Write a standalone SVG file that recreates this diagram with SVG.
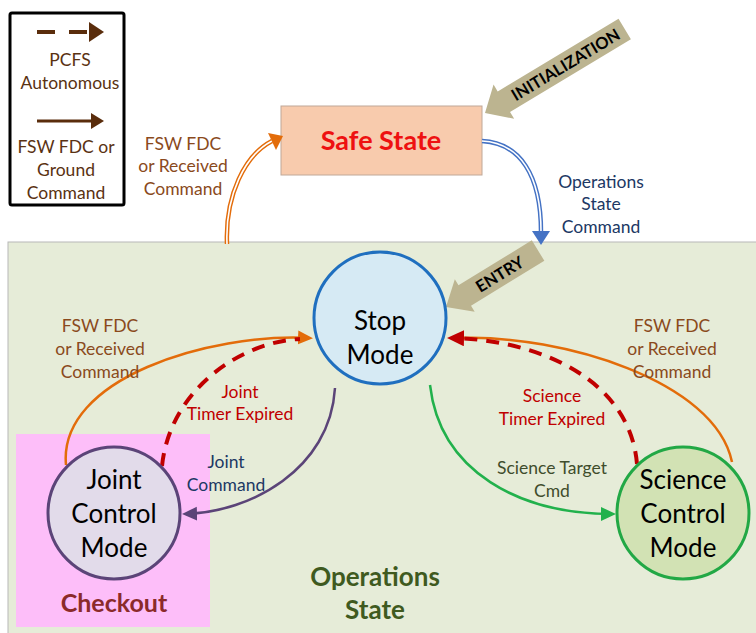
<svg xmlns="http://www.w3.org/2000/svg" width="756" height="633" viewBox="0 0 756 633">
<defs>
<style>
text{font-family:Lato,"Liberation Sans",sans-serif;text-anchor:middle}
.lbl{font-size:17.5px}
.sm{font-size:17.5px}
.brown{fill:#8a4a1c}
.navy{fill:#203864}
.red{fill:#c00000}
.olive{fill:#3f4d2c}
.node{font-size:26px;fill:#000}
.leg{font-size:17.5px;fill:#5a3212}
.bold{font-weight:bold}
</style>
<marker id="mOr" markerUnits="userSpaceOnUse" markerWidth="16" markerHeight="16" refX="11" refY="7" orient="auto"><path d="M0,0 L15,7 L0,14 z" fill="#e36c0a"/></marker>
<marker id="mRd" markerUnits="userSpaceOnUse" markerWidth="18" markerHeight="18" refX="12" refY="8" orient="auto"><path d="M0,0 L17,8 L0,16 z" fill="#c00000"/></marker>
<marker id="mPu" markerUnits="userSpaceOnUse" markerWidth="16" markerHeight="16" refX="11" refY="7" orient="auto"><path d="M0,0 L15,7 L0,14 z" fill="#5b4478"/></marker>
<marker id="mGr" markerUnits="userSpaceOnUse" markerWidth="16" markerHeight="16" refX="11" refY="7" orient="auto"><path d="M0,0 L15,7 L0,14 z" fill="#22b14c"/></marker>
</defs>
<rect x="0" y="0" width="756" height="633" fill="#ffffff"/>
<g id="operations-state">
<rect x="8" y="242" width="760" height="392" fill="#e6ecd8" stroke="#b8b8b8" stroke-width="1"/>
</g>
<g id="checkout">
<rect x="16" y="434" width="194" height="193" fill="#fdbef9"/>
<text x="114" y="612" font-size="25" class="bold" fill="#8b2a2a">Checkout</text>
</g>
<g id="legend">
<rect x="10" y="13" width="114" height="192" rx="2" fill="#fff" stroke="#000" stroke-width="3"/>
<line x1="37" y1="32" x2="91" y2="32" stroke="#5a2d0c" stroke-width="4" stroke-dasharray="18 14"/>
<path d="M89,22 L104,32 L89,42 z" fill="#5a2d0c"/>
<text class="leg" x="70" y="66">PCFS</text>
<text class="leg" x="70" y="89">Autonomous</text>
<line x1="37" y1="121" x2="93" y2="121" stroke="#5a2d0c" stroke-width="3"/>
<path d="M91,113 L104,121 L91,129 z" fill="#5a2d0c"/>
<text class="leg" x="66" y="153">FSW FDC or</text>
<text class="leg" x="66" y="176">Ground</text>
<text class="leg" x="66" y="199">Command</text>
</g>
<g id="initialization" transform="translate(485,113) rotate(-31)">
<path d="M0,0 L22,-20 L22,-12 L163,-12 L163,12 L22,12 L22,20 z" fill="#bcb490"/>
<text x="94" y="6" font-size="16.5" class="bold" fill="#000">INITIALIZATION</text>
</g>
<g id="safe-state">
<rect x="281" y="106" width="201" height="69" fill="#f8cbad" stroke="#c0a898" stroke-width="1"/>
<text x="381" y="150" font-size="27" class="bold" fill="#ee1111">Safe State</text>
</g>
<g id="connectors">
<path d="M227,244 C225,195 245,155 272,141" fill="none" stroke="#e36c0a" stroke-width="4.5"/>
<path d="M227,244 C225,195 245,155 272,141" fill="none" stroke="#fff" stroke-width="1.6"/>
<path d="M268,133 L283,136 L276,150 z" fill="#e36c0a"/>
<path d="M482,141 C520,143 541,175 541,232" fill="none" stroke="#4472c4" stroke-width="4.5"/>
<path d="M482,141 C520,143 541,175 541,232" fill="none" stroke="#fff" stroke-width="1.6"/>
<path d="M532,231 L550,231 L541,245 z" fill="#4472c4"/>
<path d="M66,465 C58,378 210,333 309,338" fill="none" stroke="#e36c0a" stroke-width="2.5" marker-end="url(#mOr)"/>
<path d="M162,466 C170,390 240,342 300,339" fill="none" stroke="#c00000" stroke-width="4" stroke-dasharray="13 9"/>
<path d="M335,388 C330,470 250,512 186,514" fill="none" stroke="#5b4478" stroke-width="2.5" marker-end="url(#mPu)"/>
<path d="M430,385 C440,472 520,514 612,514" fill="none" stroke="#22b14c" stroke-width="2.5" marker-end="url(#mGr)"/>
<path d="M732,462 C715,380 560,335 462,338" fill="none" stroke="#e36c0a" stroke-width="2.5"/>
<path d="M637,464 C630,380 540,340 452,338" fill="none" stroke="#c00000" stroke-width="4" stroke-dasharray="13 9" marker-end="url(#mRd)"/>
</g>
<g id="entry" transform="translate(446,307) rotate(-31.5)">
<path d="M0,0 L22,-19 L22,-12 L108,-12 L108,12 L22,12 L22,19 z" fill="#bcb490"/>
<text x="63" y="6" font-size="16.5" class="bold" fill="#000">ENTRY</text>
</g>
<g id="stop-mode">
<circle cx="380" cy="318" r="66" fill="#d6eaf4" stroke="#1f6fbf" stroke-width="3"/>
<text class="node" x="380" y="330">Stop</text>
<text class="node" x="380" y="364">Mode</text>
</g>
<g id="joint-control-mode">
<circle cx="114" cy="513" r="66" fill="#e2dbea" stroke="#5b4478" stroke-width="3"/>
<text class="node" x="114" y="489">Joint</text>
<text class="node" x="114" y="523">Control</text>
<text class="node" x="114" y="557">Mode</text>
</g>
<g id="science-control-mode">
<circle cx="683" cy="513" r="66" fill="#d2e2b4" stroke="#22a845" stroke-width="3"/>
<text class="node" x="683" y="489">Science</text>
<text class="node" x="683" y="523">Control</text>
<text class="node" x="683" y="557">Mode</text>
</g>
<g id="labels">
<text class="lbl brown" x="183" y="150">FSW FDC</text>
<text class="lbl brown" x="183" y="172">or Received</text>
<text class="lbl brown" x="183" y="195">Command</text>
<text class="lbl navy" x="601" y="188">Operations</text>
<text class="lbl navy" x="601" y="210">State</text>
<text class="lbl navy" x="601" y="233">Command</text>
<text class="lbl brown" x="100" y="332">FSW FDC</text>
<text class="lbl brown" x="100" y="355">or Received</text>
<text class="lbl brown" x="100" y="378">Command</text>
<text class="lbl brown" x="672" y="332">FSW FDC</text>
<text class="lbl brown" x="672" y="355">or Received</text>
<text class="lbl brown" x="672" y="378">Command</text>
<text class="lbl red" x="240" y="398">Joint</text>
<text class="lbl red" x="240" y="420">Timer Expired</text>
<text class="sm navy" x="226" y="468">Joint</text>
<text class="sm navy" x="226" y="491">Command</text>
<text class="lbl red" x="552" y="402">Science</text>
<text class="lbl red" x="552" y="425">Timer Expired</text>
<text class="sm olive" x="552" y="474">Science Target</text>
<text class="sm olive" x="552" y="497">Cmd</text>
<text x="375" y="586" font-size="26" class="bold" fill="#3f5a1f">Operations</text>
<text x="375" y="619" font-size="26" class="bold" fill="#3f5a1f">State</text>
</g>
</svg>
